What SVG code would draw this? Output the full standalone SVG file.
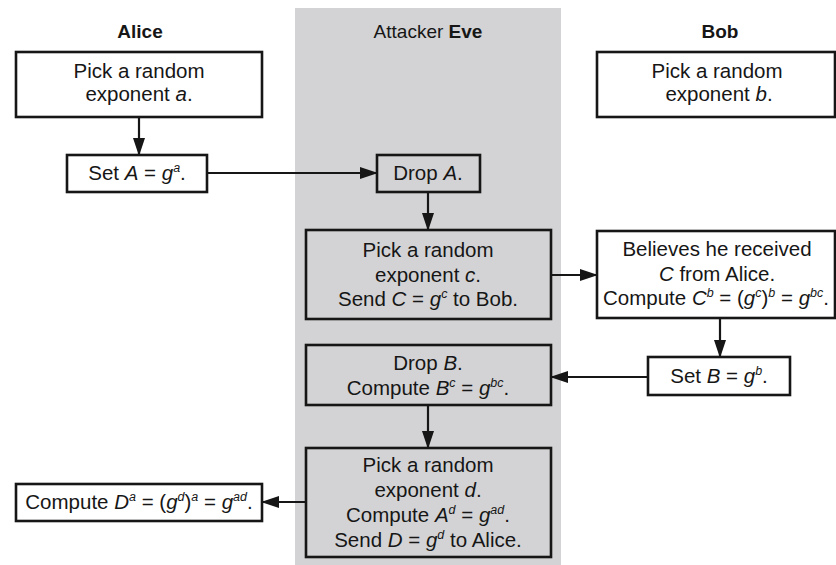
<svg xmlns="http://www.w3.org/2000/svg" width="836" height="565" viewBox="0 0 836 565">
  <style>
    text { font-family: "Liberation Sans", Arial, sans-serif; font-size: 20.5px; fill: #161616; text-anchor: middle; }
    .title { font-size: 19px; }
    .b { font-weight: bold; }
    .i { font-style: italic; }
    .sup { font-size: 12.5px; }
    .box { stroke: #161616; stroke-width: 2.6; fill: #ffffff; }
    .eve { fill: #d3d3d5; }
    .wire { stroke: #161616; stroke-width: 2.2; fill: none; marker-end: url(#head); }
  </style>
  <defs>
    <marker id="head" markerUnits="userSpaceOnUse" markerWidth="18" markerHeight="12" refX="17" refY="6" orient="auto">
      <path d="M0,0 L18,6 L0,12 Z" fill="#161616"/>
    </marker>
  </defs>

  <rect width="836" height="565" fill="#ffffff"/>
  <!-- Eve's column -->
  <rect x="295" y="8" width="266" height="557" fill="#d3d3d5"/>

  <!-- column titles -->
  <text class="title b" x="140" y="38">Alice</text>
  <text class="title" x="428" y="38">Attacker <tspan class="b">Eve</tspan></text>
  <text class="title b" x="720" y="38">Bob</text>

  <g id="connectors">
    <line class="wire" x1="139" y1="117" x2="139" y2="155"/>
    <line class="wire" x1="207" y1="173" x2="377" y2="173"/>
    <line class="wire" x1="428" y1="192" x2="428" y2="230"/>
    <line class="wire" x1="551" y1="275" x2="597" y2="275"/>
    <line class="wire" x1="720" y1="318" x2="720" y2="357"/>
    <line class="wire" x1="648" y1="377" x2="551" y2="377"/>
    <line class="wire" x1="428" y1="405" x2="428" y2="448"/>
    <line class="wire" x1="306" y1="502" x2="262" y2="502"/>
  </g>

  <g id="alice-pick">
    <rect class="box" x="16" y="52" width="246" height="65"/>
    <text x="139" y="78">Pick a random</text>
    <text x="139" y="101">exponent <tspan class="i">a</tspan>.</text>
  </g>

  <g id="alice-set">
    <rect class="box" x="67" y="155" width="140" height="37"/>
    <text x="137" y="180">Set <tspan class="i">A</tspan> = <tspan class="i">g</tspan><tspan class="sup i" dy="-8">a</tspan><tspan dy="8">.</tspan></text>
  </g>

  <g id="eve-drop-a">
    <rect class="box eve" x="377" y="155" width="103" height="37"/>
    <text x="428" y="180">Drop <tspan class="i">A</tspan>.</text>
  </g>

  <g id="eve-pick-c">
    <rect class="box eve" x="306" y="230" width="245" height="89"/>
    <text x="428" y="257">Pick a random</text>
    <text x="428" y="282">exponent <tspan class="i">c</tspan>.</text>
    <text x="428" y="306">Send <tspan class="i">C</tspan> = <tspan class="i">g</tspan><tspan class="sup i" dy="-8">c</tspan><tspan dy="8"> to Bob.</tspan></text>
  </g>

  <g id="bob-pick">
    <rect class="box" x="597" y="52" width="238" height="65"/>
    <text x="717" y="78">Pick a random</text>
    <text x="719" y="101">exponent <tspan class="i">b</tspan>.</text>
  </g>

  <g id="bob-receive">
    <rect class="box" x="597" y="231" width="238" height="87"/>
    <text x="717" y="256">Believes he received</text>
    <text x="717" y="281"><tspan class="i">C</tspan> from Alice.</text>
    <text x="716" y="305">Compute <tspan class="i">C</tspan><tspan class="sup i" dy="-8">b</tspan><tspan dy="8"> = (</tspan><tspan class="i">g</tspan><tspan class="sup i" dy="-8">c</tspan><tspan dy="8">)</tspan><tspan class="sup i" dy="-8">b</tspan><tspan dy="8"> = </tspan><tspan class="i">g</tspan><tspan class="sup i" dy="-8">bc</tspan><tspan dy="8">.</tspan></text>
  </g>

  <g id="bob-set">
    <rect class="box" x="648" y="357" width="142" height="38"/>
    <text x="719" y="383">Set <tspan class="i">B</tspan> = <tspan class="i">g</tspan><tspan class="sup i" dy="-8">b</tspan><tspan dy="8">.</tspan></text>
  </g>

  <g id="eve-drop-b">
    <rect class="box eve" x="306" y="345" width="245" height="60"/>
    <text x="428" y="370">Drop <tspan class="i">B</tspan>.</text>
    <text x="428" y="395">Compute <tspan class="i">B</tspan><tspan class="sup i" dy="-8">c</tspan><tspan dy="8"> = </tspan><tspan class="i">g</tspan><tspan class="sup i" dy="-8">bc</tspan><tspan dy="8">.</tspan></text>
  </g>

  <g id="eve-pick-d">
    <rect class="box eve" x="306" y="448" width="245" height="109"/>
    <text x="428" y="472">Pick a random</text>
    <text x="428" y="497">exponent <tspan class="i">d</tspan>.</text>
    <text x="428" y="522">Compute <tspan class="i">A</tspan><tspan class="sup i" dy="-8">d</tspan><tspan dy="8"> = </tspan><tspan class="i">g</tspan><tspan class="sup i" dy="-8">ad</tspan><tspan dy="8">.</tspan></text>
    <text x="428" y="547">Send <tspan class="i">D</tspan> = <tspan class="i">g</tspan><tspan class="sup i" dy="-8">d</tspan><tspan dy="8"> to Alice.</tspan></text>
  </g>

  <g id="alice-compute">
    <rect class="box" x="16" y="484" width="246" height="37"/>
    <text x="139" y="509">Compute <tspan class="i">D</tspan><tspan class="sup i" dy="-8">a</tspan><tspan dy="8"> = (</tspan><tspan class="i">g</tspan><tspan class="sup i" dy="-8">d</tspan><tspan dy="8">)</tspan><tspan class="sup i" dy="-8">a</tspan><tspan dy="8"> = </tspan><tspan class="i">g</tspan><tspan class="sup i" dy="-8">ad</tspan><tspan dy="8">.</tspan></text>
  </g>
</svg>
